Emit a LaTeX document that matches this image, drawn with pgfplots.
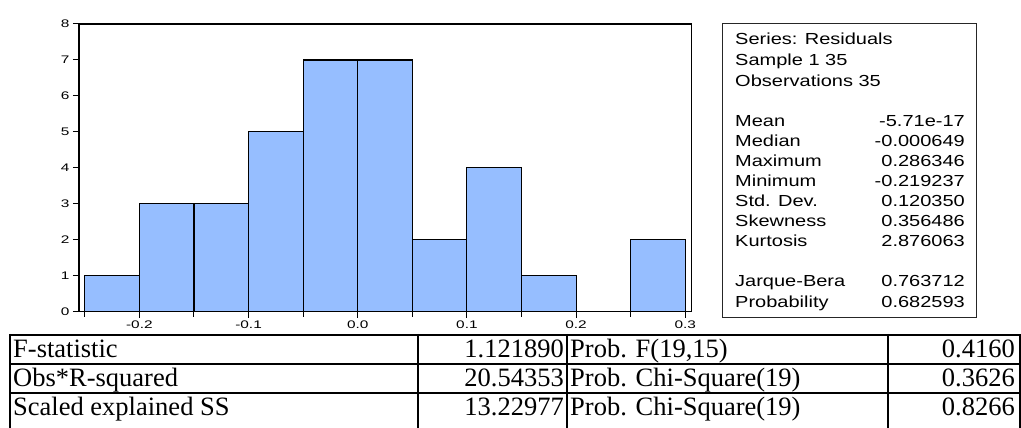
\documentclass[border=0pt]{standalone}
\usepackage{fontspec}
\usepackage{graphicx}
\usepackage{pgfplots}
\pgfplotsset{compat=1.18}
\setmainfont{Liberation Sans}
\newfontfamily\serifrm{Liberation Serif}
\definecolor{barblue}{RGB}{150,190,255}
\newcommand{\tk}[1]{\scalebox{1.4}[1]{#1}}
\newcommand{\st}[1]{\scalebox{1.25}[1]{#1}}
\begin{document}
\begin{tikzpicture}[x=1pt,y=1pt]
\useasboundingbox (0,0) rectangle (1021,428);
\begin{axis}[
  at={(79pt,116.3pt)}, anchor=south west,
  width=612.7pt, height=287.7pt, scale only axis,
  xmin=-0.2553, xmax=0.3059, ymin=0, ymax=8,
  axis line style={black, line width=1.2pt},
  xtick={-0.2,-0.1,0,0.1,0.2,0.3},
  xticklabels={\tk{-0.2},\tk{-0.1},\tk{0.0},\tk{0.1},\tk{0.2},\tk{0.3}},
  minor xtick={-0.25,-0.15,-0.05,0.05,0.15,0.25},
  ytick={0,1,2,3,4,5,6,7,8},
  yticklabels={\tk{0},\tk{1},\tk{2},\tk{3},\tk{4},\tk{5},\tk{6},\tk{7},\tk{8}},
  minor ytick={},
  tick align=outside, tick pos=left,
  major tick length=6pt, minor tick length=5pt,
  every tick/.style={black, line width=1pt},
  ticklabel style={font=\fontsize{11}{13}\selectfont, black},
  clip=false,
]
\addplot[ybar interval, fill=barblue, draw=black, line width=1.1pt] coordinates {
(-0.25,1) (-0.2,3) (-0.15,3) (-0.1,5) (-0.05,7) (0,7) (0.05,2) (0.1,4) (0.15,1) (0.2,0) (0.25,2) (0.3,2)};
\end{axis}
% stats box
\draw[line width=1pt, black!85] (722,404) rectangle (976,110);
\begin{scope}[every node/.style={inner sep=0pt, font=\fontsize{16}{18}\selectfont}]
\node[anchor=base west] at (735,383) {\st{Series: Residuals}};
\node[anchor=base west] at (735,362) {\st{Sample 1 35}};
\node[anchor=base west] at (735,341) {\st{Observations 35}};
\node[anchor=base west] at (735,301) {\st{Mean}};
\node[anchor=base west] at (735,281) {\st{Median}};
\node[anchor=base west] at (735,261) {\st{Maximum}};
\node[anchor=base west] at (735,241) {\st{Minimum}};
\node[anchor=base west] at (735,221) {\st{Std. Dev.}};
\node[anchor=base west] at (735,201) {\st{Skewness}};
\node[anchor=base west] at (735,181) {\st{Kurtosis}};
\node[anchor=base west] at (735,141) {\st{Jarque-Bera}};
\node[anchor=base west] at (735,120) {\st{Probability}};
\node[anchor=base east] at (965,301) {\st{-5.71e-17}};
\node[anchor=base east] at (965,281) {\st{-0.000649}};
\node[anchor=base east] at (965,261) {\st{0.286346}};
\node[anchor=base east] at (965,241) {\st{-0.219237}};
\node[anchor=base east] at (965,221) {\st{0.120350}};
\node[anchor=base east] at (965,201) {\st{0.356486}};
\node[anchor=base east] at (965,181) {\st{2.876063}};
\node[anchor=base east] at (965,141) {\st{0.763712}};
\node[anchor=base east] at (965,120) {\st{0.682593}};
\end{scope}
% table
\begin{scope}[line width=2pt]
\draw (9,93) -- (1022,93);
\draw (9,64) -- (1022,64);
\draw (9,35) -- (1022,35);
\draw (10,94) -- (10,-2);
\draw (418,94) -- (418,-2);
\draw (567,94) -- (567,-2);
\draw (888,94) -- (888,-2);
\draw (1020,94) -- (1020,-2);
\end{scope}
\begin{scope}[every node/.style={inner sep=0pt, font=\serifrm\fontsize{26.5}{30}\selectfont}]
\node[anchor=base west] at (13,70) {F-statistic};
\node[anchor=base west] at (13,41) {Obs*R-squared};
\node[anchor=base west] at (13,12) {Scaled explained SS};
\node[anchor=base east] at (564,70) {1.121890};
\node[anchor=base east] at (564,41) {20.54353};
\node[anchor=base east] at (564,12) {13.22977};
\node[anchor=base west] at (570,70) {Prob. F(19,15)};
\node[anchor=base west] at (570,41) {Prob. Chi-Square(19)};
\node[anchor=base west] at (570,12) {Prob. Chi-Square(19)};
\node[anchor=base east] at (1015,70) {0.4160};
\node[anchor=base east] at (1015,41) {0.3626};
\node[anchor=base east] at (1015,12) {0.8266};
\end{scope}
\end{tikzpicture}
\end{document}
